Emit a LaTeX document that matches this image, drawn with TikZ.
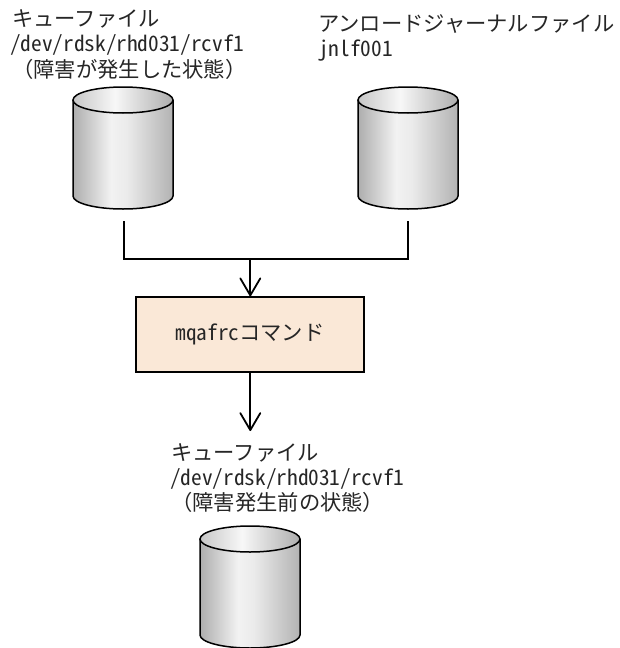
\documentclass[tikz,border=0pt]{standalone}
\usepackage{fontspec}
\newfontfamily\cjk[RawFeature=+hwid]{Noto Sans CJK JP}
\newfontfamily\cjkfull{Noto Sans CJK JP}
\usetikzlibrary{arrows.meta}
\definecolor{boxfill}{RGB}{250,232,215}
\pgfdeclarehorizontalshading{cylbody}{100bp}{
  color(0bp)=(black!32); color(25bp)=(black!32); color(44bp)=(black!5);
  color(52bp)=(black!8); color(75bp)=(black!30); color(100bp)=(black!30)}
\pgfdeclarehorizontalshading{cyltop}{100bp}{
  color(0bp)=(black!22); color(25bp)=(black!22); color(46bp)=(black!3);
  color(75bp)=(black!32); color(100bp)=(black!32)}
\tikzset{
  x=1pt,y=-1pt,
  lab/.style={anchor=base west,inner sep=0pt,font=\cjk\fontsize{21.3}{21.3}\selectfont,text=black!85},
  labfull/.style={lab,font=\cjkfull\fontsize{21.3}{21.3}\selectfont},
  line/.style={draw=black,line width=1.5pt},
  arr/.style={draw=black,line width=1.8pt,-{Straight Barb[length=17pt,width=20pt,line width=1.8pt,round]}},
  cmdbox/.style={draw=black,line width=1.5pt,fill=boxfill,minimum width=228pt,minimum height=75pt,inner sep=0pt,font=\cjk\fontsize{21.3}{21.3}\selectfont,text=black!85}
}
\newcommand{\cyl}[2]{%
  \path[shading=cylbody]
    (#1,#2) -- (#1+100,#2) -- (#1+100,#2+96) arc[x radius=50,y radius=-13,start angle=0,end angle=-180] -- cycle;
  \path[shading=cyltop]
    (#1+50,#2) ellipse[x radius=50,y radius=13];
  \draw[line] (#1,#2) -- (#1,#2+96) arc[x radius=50,y radius=-13,start angle=180,end angle=360] -- (#1+100,#2);
  \draw[line] (#1+50,#2) ellipse[x radius=50,y radius=13];
}
\begin{document}
\begin{tikzpicture}
\useasboundingbox (0,0) rectangle (619,648);
\fill[white] (0,0) rectangle (619,648);
\node[lab] (t1a) at (12,26) {キューファイル};
\node[lab] (t1b) at (10,51) {/dev/rdsk/rhd031/rcvf1};
\node[labfull] (t1c) at (12,77) {（障害が発生した状態）};
\node[lab] (t2a) at (318,31) {アンロードジャーナルファイル};
\node[lab] (t2b) at (318,56) {jnlf001};
\node[lab] (t3a) at (171,460) {キューファイル};
\node[lab] (t3b) at (170,485) {/dev/rdsk/rhd031/rcvf1};
\node[labfull] (t3c) at (171,510) {（障害発生前の状態）};
\cyl{73}{100}
\cyl{358}{100}
\cyl{200}{539}
\coordinate (s1) at (124,221);
\coordinate (s2) at (408,221);
\coordinate (j) at (250.3,259);
\coordinate (e) at (250.3,431);
\node[cmdbox] (cmd) at (250,334.5) {mqafrcコマンド};
\draw[line,line join=miter] (s1) |- (s2 |- j) -- (s2);
\draw[arr] (j) -- (cmd.north -| j);
\draw[arr] (cmd.south -| j) -- (e);
\end{tikzpicture}
\end{document}
